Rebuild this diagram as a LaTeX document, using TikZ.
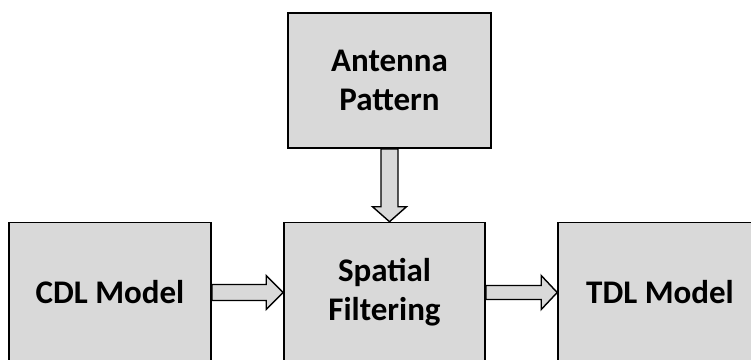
\documentclass[tikz,border=0pt]{standalone}
\usepackage{fontspec}
\setmainfont{Carlito}
\usetikzlibrary{calc}
\definecolor{boxgray}{HTML}{D9D9D9}
\begin{document}
\begin{tikzpicture}[x=1pt,y=-1pt,
  box/.style={draw=black, line width=1.6pt, fill=boxgray, minimum width=202pt, minimum height=140pt, inner sep=0pt, align=center, font=\fontsize{33}{39}\selectfont\bfseries},
  blockarrow/.style={draw=black, line width=1.4pt, fill=boxgray, line join=miter}]
\useasboundingbox (0,0) rectangle (751,359);
\clip (0,0) rectangle (751,359);
\node[box, minimum height=135pt, minimum width=203pt] (antenna) at (389.5,80.5) {Antenna\\Pattern};
\node[box] (cdl) at (110,292.5) {CDL Model};
\node[box, minimum width=201pt] (spatial) at (384.5,292.5) {Spatial\\Filtering};
\node[box, minimum width=204pt] (tdl) at (660,292.5) {TDL Model};
% horizontal arrows
\draw[blockarrow] ($(cdl.east)+(0,-8)$) -- ($(spatial.west)+(-17,-8)$) -- ($(spatial.west)+(-17,-17)$) -- (spatial.west) -- ($(spatial.west)+(-17,17)$) -- ($(spatial.west)+(-17,8)$) -- ($(cdl.east)+(0,8)$) -- cycle;
\draw[blockarrow] ($(spatial.east)+(0,-7)$) -- ($(tdl.west)+(-16,-7)$) -- ($(tdl.west)+(-16,-17)$) -- (tdl.west) -- ($(tdl.west)+(-16,17)$) -- ($(tdl.west)+(-16,7)$) -- ($(spatial.east)+(0,7)$) -- cycle;
% vertical arrow
\coordinate (vtip) at (spatial.north -| antenna.south);
\draw[blockarrow] ($(antenna.south)+(-8.5,0)$) -- ($(vtip)+(-8.5,-15)$) -- ($(vtip)+(-17,-15)$) -- (vtip) -- ($(vtip)+(17,-15)$) -- ($(vtip)+(8.5,-15)$) -- ($(antenna.south)+(8.5,0)$) -- cycle;
\end{tikzpicture}
\end{document}
